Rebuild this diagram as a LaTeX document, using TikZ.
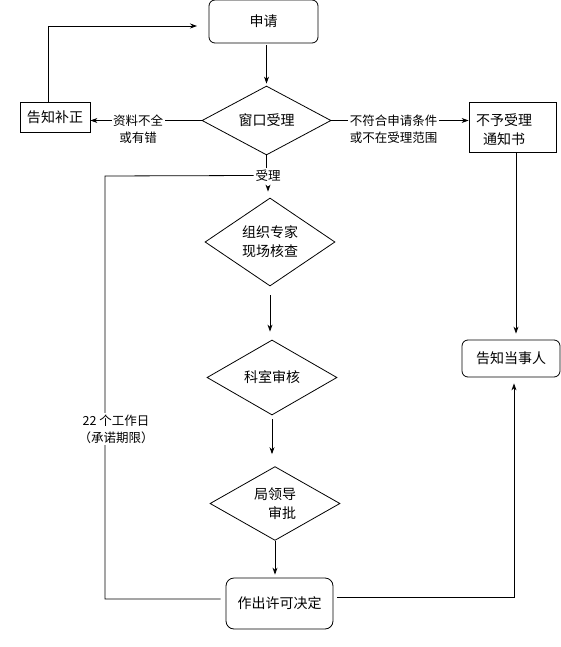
\documentclass[tikz,border=0pt]{standalone}
\usepackage{fontspec}
\setmainfont{Noto Sans CJK SC}
\usetikzlibrary{shapes.geometric,arrows.meta}
\begin{document}
\begin{tikzpicture}[x=1pt,y=-1pt,
 line width=0.8pt,
 nf/.style={font=\fontsize{14}{19}\selectfont},
 lf/.style={font=\fontsize{12.5}{17}\selectfont},
 rbox/.style={draw, rounded corners=6pt, nf, inner sep=0pt, align=center},
 sbox/.style={draw, nf, inner sep=0pt, align=center},
 dia/.style={draw, diamond, nf, inner sep=0pt, align=center},
 lbl/.style={lf, fill=white, inner sep=1.5pt, align=center},
 arr/.style={-{Stealth[length=7pt,width=5pt]}}]
\useasboundingbox (0,0) rectangle (561,647);
% nodes
\node[rbox, minimum width=109pt, minimum height=43pt] (sq) at (263.5,21.5) {申请};
\node[dia, minimum width=129pt, minimum height=55pt] (ck) at (266.5,120.5) {窗口受理};
\node[sbox, minimum width=70pt, minimum height=30pt] (bz) at (55,117) {告知补正};
\node[sbox, minimum width=87pt, minimum height=50pt] (bs) at (512.5,127) {};
\node[nf, align=center, inner sep=0pt] (bst) at (504,129.5) {不予受理\\通知书};
\node[rbox, minimum width=98pt, minimum height=37pt] (gz) at (511,358.5) {告知当事人};
\node[dia, minimum width=130pt, minimum height=74pt] (zz) at (270,242) {组织专家\\现场核查};
\node[dia, minimum width=130pt, minimum height=75pt] (ks) at (272,377.5) {科室审核};
\node[dia, minimum width=130pt, minimum height=67pt, align=right] (jl) at (275,503.5) {局领导\\审批};
\node[rbox, rounded corners=8pt, minimum width=107pt, minimum height=51pt] (zc) at (279.5,603.5) {作出许可决定};
\coordinate (la) at (197,26);
\coordinate (c1) at (105,176);
\coordinate (c2) at (105,599);
\coordinate (c3) at (514,597);
% connectors
\draw[arr, shorten <=2pt, shorten >=2pt] (ck.north |- sq.south) -- (ck.north);
\draw[arr] (ck.west) -- (ck.west -| bz.east);
\draw[arr] (ck.east) -- (ck.east -| bs.west);
\draw[arr] ([xshift=-7pt]bz.north) |- (la);
\draw[arr, shorten >=6pt] ([xshift=3.5pt]bs.south) -- ([xshift=3.5pt]bs.south |- gz.north);
\node[lbl] (sl) at (268,175.5) {受理};
\draw (ck.south) -- (ck.south |- sl.north);
\draw[arr, shorten <=3pt, shorten >=6pt] (sl.south) -- (sl.south |- zz.north);
\draw (sl.west) -- (c1) -- (c2) -- ([xshift=-5pt]zc.west |- c2);
\draw[arr, shorten <=9pt, shorten >=8pt] (zz.south) -- (zz.south |- ks.north);
\draw[arr, shorten <=4pt, shorten >=12pt] (ks.south) -- (ks.south |- jl.north);
\draw[arr, shorten >=3pt] (jl.south) -- (jl.south |- zc.north);
\draw[arr, shorten <=4pt, shorten >=6pt] (zc.east |- c3) -- (c3) -- (c3 |- gz.south);
% labels
\node[lbl] (zl) at (138,129.5) {资料不全\\或有错};
\node[lbl] (fl) at (393.5,129.5) {不符合申请条件\\或不在受理范围};
\node[lbl] (gr) at (116,429) {22 个工作日\\（承诺期限）};
\end{tikzpicture}
\end{document}
